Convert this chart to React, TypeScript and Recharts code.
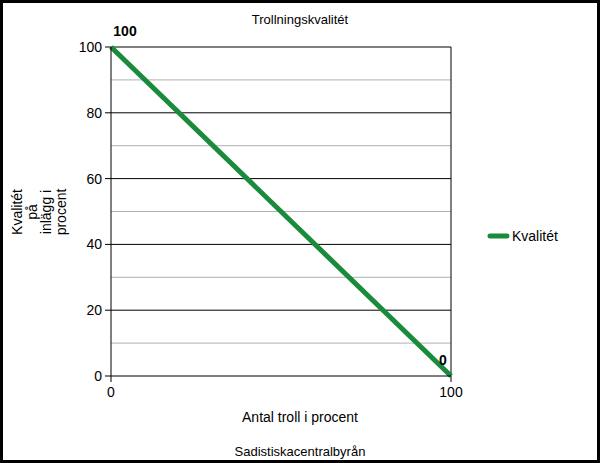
import React from 'react';
import { LineChart, Line, XAxis, YAxis, ReferenceLine, LabelList, Customized } from 'recharts';

const xValues = [0, 100];
const qualityValues = [100, 0];
const yTicks = [0, 20, 40, 60, 80, 100];
const minorTicks = [10, 30, 50, 70, 90];
const xTicks = [0, 100];
const title = 'Trollningskvalitét';
const xLabel = 'Antal troll i procent';
const yLabelLines = ['Kvalitét', 'på', 'inlägg i', 'procent'];
const footer = 'Sadistiskacentralbyrån';
const seriesName = 'Kvalitét';

const data = xValues.map((x, i) => ({ x, q: qualityValues[i] }));

const GREEN = '#1a8a3c';
const FONT = 'Liberation Sans, Arial, sans-serif';

const PointLabel = (props: any) => {
  const { x, y, index, value } = props;
  const dx = index === 0 ? 14 : -8;
  return (
    <text x={x + dx} y={y - 11} textAnchor="middle" fontFamily={FONT} fontSize={14} fontWeight="bold" fill="#000">
      {value}
    </text>
  );
};

const Decorations = () => (
  <g fontFamily={FONT} fill="#000">
    <text x={300} y={24} textAnchor="middle" fontSize={13}>{title}</text>
    <text x={300} y={422} textAnchor="middle" fontSize={14}>{xLabel}</text>
    <text x={300} y={456} textAnchor="middle" fontSize={13}>{footer}</text>
    <g transform="translate(38,212) rotate(-90)">
      {yLabelLines.map((l, i) => (
        <text key={i} x={0} y={-16 + i * 14.5} textAnchor="middle" fontSize={14}>{l}</text>
      ))}
    </g>
    <line x1={490} y1={236} x2={507} y2={236} stroke={GREEN} strokeWidth={5} strokeLinecap="round" />
    <text x={512} y={241} fontSize={14}>{seriesName}</text>
  </g>
);

export default function App() {
  return (
    <div style={{ position: 'absolute', left: 0, top: 0, width: 600, height: 463, boxSizing: 'border-box', border: '3px solid #000', background: '#fff' }}>
      <div style={{ position: 'absolute', left: -3, top: -3 }}>
        <LineChart width={600} height={463} data={data} margin={{ top: 47, right: 149, bottom: 57, left: 0 }}>
          <XAxis
            dataKey="x"
            type="number"
            domain={[0, 100]}
            ticks={xTicks}
            height={30}
            axisLine={{ stroke: '#000' }}
            tickLine={{ stroke: '#000' }}
            tickSize={6}
            tickMargin={5}
            tick={{ fill: '#000', fontSize: 14, fontFamily: FONT }}
          />
          <YAxis
            type="number"
            domain={[0, 100]}
            ticks={yTicks}
            width={111}
            axisLine={{ stroke: '#000' }}
            tickLine={{ stroke: '#000' }}
            tickSize={6}
            tickMargin={3}
            tick={{ fill: '#000', fontSize: 14, fontFamily: FONT }}
          />
          {minorTicks.map((v) => (
            <ReferenceLine key={'m' + v} y={v} stroke="#b0b0b0" strokeWidth={1} />
          ))}
          {yTicks.filter((v) => v > 0).map((v) => (
            <ReferenceLine key={'M' + v} y={v} stroke="#000" strokeWidth={1} />
          ))}
          <ReferenceLine x={100} stroke="#000" strokeWidth={1} />
          <Line
            dataKey="q"
            stroke={GREEN}
            strokeWidth={5}
            dot={false}
            isAnimationActive={false}
          >
            <LabelList dataKey="q" content={PointLabel} />
          </Line>
          <Customized component={Decorations} />
        </LineChart>
      </div>
    </div>
  );
}
